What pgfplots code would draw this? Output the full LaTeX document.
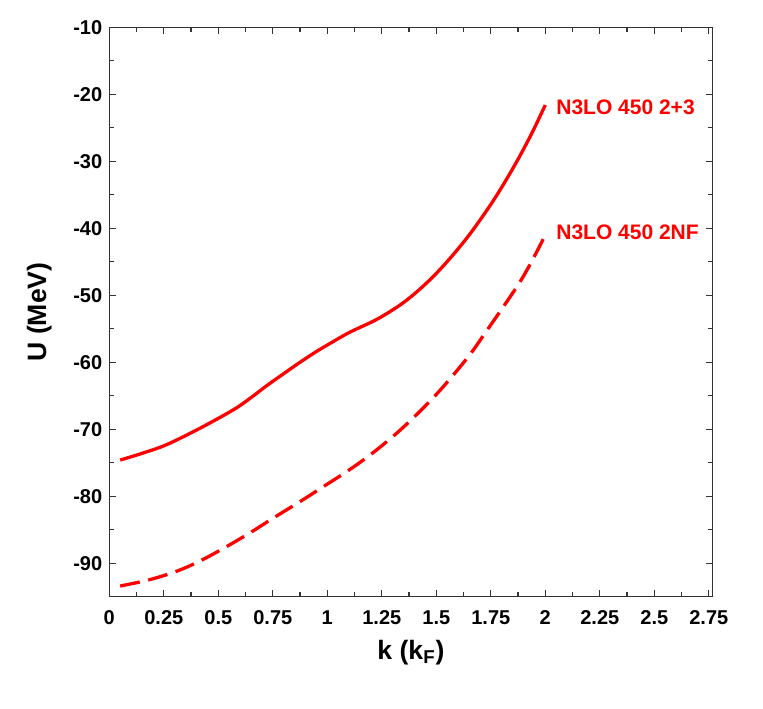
\documentclass[border=0pt]{standalone}
\usepackage{pgfplots}
\pgfplotsset{compat=1.18}
\usepackage{fontspec}
\setmainfont{Liberation Sans}
\begin{document}
\begin{tikzpicture}
\useasboundingbox (-54.65pt,-55.65pt) rectangle (326.85pt,298.35pt);
\begin{axis}[
  scale only axis,
  width=301.7pt, height=284.7pt,
  xmin=0, xmax=2.768, ymin=-95, ymax=-10,
  xtick={0,0.25,...,2.76}, ytick={-90,-80,...,-10},
  minor x tick num=1, minor y tick num=1,
  tick align=inside,
  major tick length=3.5pt, minor tick length=2.3pt,
  axis line style={line width=0.6pt, black!80},
  every tick/.style={line width=0.6pt, black!80},
  /pgf/number format/assume math mode=true,
  ticklabel style={font=\fontsize{10}{12}\selectfont\bfseries},
  xticklabel style={yshift=-3.5pt},
  xlabel={k (k\textsubscript{F})},
  ylabel={U (MeV)},
  label style={font=\fontsize{13.3}{15}\selectfont\bfseries},
  xlabel style={at={(axis description cs:0.5,-0.098)},anchor=center},
  ylabel style={at={(axis description cs:-0.116,0.5)},anchor=center},
  clip=false,
]
\addplot[red, line width=1.65pt, smooth, tension=0.55] coordinates {
(0.05,-74.6)(0.15,-73.6)(0.263,-72.3)(0.416,-69.85)(0.569,-67.1)(0.645,-65.4)
(0.722,-63.5)(0.8,-61.7)(0.875,-60.0)(0.95,-58.4)(1.028,-56.9)(1.104,-55.5)
(1.227,-53.6)(1.334,-51.45)(1.41,-49.5)(1.486,-47.2)(1.56,-44.6)(1.639,-41.5)
(1.7,-38.8)(1.761,-35.9)(1.82,-32.8)(1.88,-29.4)(1.94,-25.7)(2.0,-21.6)
};
\addplot[red, line width=1.65pt, smooth, tension=0.55, dash pattern=on 10pt off 4.3pt] coordinates {
(0.05,-93.4)(0.18,-92.5)(0.309,-91.2)(0.42,-89.6)(0.539,-87.5)(0.653,-85.3)
(0.76,-83.1)(0.875,-80.8)(0.99,-78.4)(1.104,-76.0)(1.21,-73.5)(1.318,-70.6)
(1.41,-67.8)(1.5,-64.8)(1.578,-61.9)(1.66,-58.6)(1.731,-55.3)(1.81,-51.6)
(1.884,-48.0)(1.94,-44.8)(2.0,-41.0)
};
\node[anchor=west, inner sep=0, text=red, font=\fontsize{10.5}{12}\selectfont\bfseries] at (axis cs:2.049,-21.9) {N3LO 450 2+3};
\node[anchor=west, inner sep=0, text=red, font=\fontsize{10.5}{12}\selectfont\bfseries] at (axis cs:2.049,-40.6) {N3LO 450 2NF};
\end{axis}
\end{tikzpicture}
\end{document}
